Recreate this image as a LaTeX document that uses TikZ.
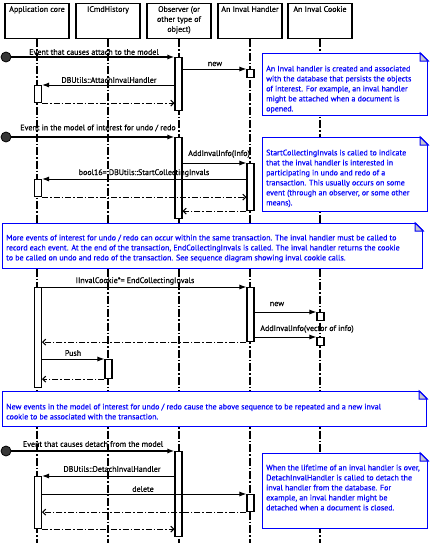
\documentclass[tikz,border=0pt]{standalone}
\usepackage{fontspec}
\setmainfont[FakeBold=0.35]{PT Sans}
\usetikzlibrary{arrows.meta}
\definecolor{noteblue}{RGB}{0,0,250}
\definecolor{flapgray}{RGB}{200,200,205}
\definecolor{dotfill}{RGB}{55,55,55}
\begin{document}
\begin{tikzpicture}[x=1pt,y=-1pt,
  font=\fontsize{8}{10}\selectfont,
  head/.style={draw, line width=1.2pt, minimum width=64pt, minimum height=35pt, anchor=north, inner sep=0pt},
  headtxt/.style={anchor=north, align=center, inner sep=0pt},
  lifeline/.style={line width=1.1pt, dash pattern=on 8pt off 2pt on 1.5pt off 2pt},
  bar/.style={draw, fill=white, line width=1.1pt, minimum width=7pt, inner sep=0pt, anchor=north},
  call/.style={line width=1pt, -{Latex[length=7pt,width=5pt]}},
  ret/.style={line width=1pt, dash pattern=on 6pt off 2pt on 1.5pt off 2pt, -{Straight Barb[length=3pt,width=6pt]}},
  found/.style={line width=1.3pt, -{Latex[length=7pt,width=5pt]}},
  startdot/.style={circle, draw, line width=0.8pt, fill=dotfill, minimum size=10pt, inner sep=0pt},
  lbl/.style={inner sep=0pt, anchor=center},
  notebox/.style={draw=noteblue, fill=white, line width=1.2pt, anchor=north west, inner sep=0pt},
  notetxt/.style={text=noteblue, align=left, anchor=north west, inner sep=0pt},
  flap/.style={draw=noteblue, fill=flapgray, line width=1pt, line join=miter}
]
\useasboundingbox (0,0) rectangle (445,558);

% ---------- headers ----------
\node[head] (hApp) at (37,3) {};
\node[head] (hCmd) at (108,3) {};
\node[head] (hObs) at (179,3) {};
\node[head] (hHnd) at (250,3) {};
\node[head] (hCk)  at (320,3) {};
\node[headtxt] (tApp) at ([yshift=-3pt]hApp.north) {Application core};
\node[headtxt] (tCmd) at ([yshift=-3pt]hCmd.north) {ICmdHistory};
\node[headtxt] (tObs) at ([yshift=-3pt]hObs.north) {Observer (or\\other type of\\object)};
\node[headtxt] (tHnd) at ([yshift=-3pt]hHnd.north) {An Inval Handler};
\node[headtxt] (tCk)  at ([yshift=-3pt]hCk.north) {An Inval Cookie};

% ---------- lifelines ----------
\coordinate (eApp) at (37,543);
\coordinate (eCmd) at (108,543);
\coordinate (eObs) at (179,543);
\coordinate (eHnd) at (250,543);
\coordinate (eCk)  at (320,543);
\draw[lifeline] (hApp.south) -- (eApp);
\draw[lifeline] (hCmd.south) -- (eCmd);
\draw[lifeline] (hObs.south) -- (eObs);
\draw[lifeline] (hHnd.south) -- (eHnd);
\draw[lifeline] (hCk.south) -- (eCk);

% ---------- activation bars ----------
\node[bar, minimum height=53pt] (obsA1) at (178.5,57) {};
\node[bar, minimum height=8pt]  (hndC)  at (250.5,69) {};
\node[bar, minimum height=17pt] (appA1) at (38,85) {};

\node[bar, minimum height=81pt] (obsA2) at (178.5,137) {};
\node[bar, minimum height=47pt] (hndA2) at (250.5,163) {};
\node[bar, minimum height=17pt] (appA2) at (38,179) {};

\node[bar, minimum height=100pt] (appA3) at (38,287) {};
\node[bar, minimum height=54pt]  (hndA3) at (250.5,287) {};
\node[bar, minimum height=8pt]   (ckC1)  at (320.5,312) {};
\node[bar, minimum height=8pt]   (ckC2)  at (320.5,337) {};
\node[bar, minimum height=19pt]  (cmdA)  at (108.5,359) {};

\node[bar, minimum height=85pt] (obsA3) at (178.5,451) {};
\node[bar, minimum height=52pt] (appA4) at (38,476) {};
\node[bar, minimum height=17pt] (hndA4) at (250.5,494) {};

% ---------- section 1 : attach ----------
\node[startdot] (s1) at (6,57) {};
\draw[found] (s1) -- (obsA1.north west);
\node[lbl] (l1) at (94,52) {Event that causes attach to the model};
\draw[call] (hndC.north west -| obsA1.east) -- (hndC.north west);
\node[lbl] (l2) at (215,64) {new};
\draw[call] (appA1.north east -| obsA1.west) -- (appA1.north east);
\node[lbl] (l3) at (109,80) {DBUtils::AttachInvalHandler};
\draw[ret] (appA1.south east) -- (appA1.south east -| obsA1.west);

% ---------- section 2 : start collecting ----------
\node[startdot] (s2) at (6,137) {};
\draw[found] (s2) -- (obsA2.north west);
\node[lbl] (l4) at (98,128) {Event in the model of interest for undo / redo};
\draw[call] (hndA2.north west -| obsA2.east) -- (hndA2.north west);
\node[lbl] (l5) at (219,154) {AddInvalInfo(Info)};
\draw[call] (appA2.north east -| hndA2.west) -- (appA2.north east);
\node[lbl] (l6) at (144,173) {bool16= DBUtils::StartCollectingInvals};
\draw[ret] (appA2.south east) -- (appA2.south east -| hndA2.west);
\draw[ret] (hndA2.south west) -- (hndA2.south west -| obsA2.east);

% ---------- section 3 : end collecting ----------
\draw[call] (appA3.north east) -- (hndA3.north west);
\node[lbl] (l7) at (135,281) {IInvalCookie*= EndCollectingInvals};
\draw[call] (ckC1.north west -| hndA3.east) -- (ckC1.north west);
\node[lbl] (l8) at (277,304) {new};
\draw[call] (ckC2.north west -| hndA3.east) -- (ckC2.north west);
\node[lbl] (l9) at (307,329) {AddInvalInfo(vector of info)};
\draw[ret] (hndA3.south west) -- (hndA3.south west -| appA3.east);
\draw[call] (cmdA.north west -| appA3.east) -- (cmdA.north west);
\node[lbl] (l10) at (73,353) {Push};
\draw[ret] (cmdA.south west) -- (cmdA.south west -| appA3.east);

% ---------- section 4 : detach ----------
\node[startdot] (s3) at (6,451) {};
\draw[found] (s3) -- (obsA3.north west);
\node[lbl] (l11) at (93,444) {Event that causes detach from the model};
\draw[call] (appA4.north east -| obsA3.west) -- (appA4.north east);
\node[lbl] (l12) at (112,469) {DBUtils::DetachInvalHandler};
\draw[call] (hndA4.north west -| appA4.east) -- (hndA4.north west);
\node[lbl] (l13) at (143,489) {delete};
\draw[ret] (hndA4.south west) -- (hndA4.south west -| appA4.east);
\draw[ret] (appA4.south east) -- (appA4.south east -| obsA3.west);

% ---------- notes ----------
\node[notebox, minimum width=165pt, minimum height=62pt] (n1) at (262,53) {};
\node[notebox, minimum width=165pt, minimum height=74pt] (n2) at (262,137) {};
\node[notebox, minimum width=420pt, minimum height=45pt] (n3) at (2,223) {};
\node[notebox, minimum width=424pt, minimum height=35pt] (n4) at (2,391) {};
\node[notebox, minimum width=165pt, minimum height=75pt] (n5) at (262,453) {};

\foreach \n in {n1,n2,n3,n4,n5}{
  \fill[white] ([xshift=-8pt]\n.north east) -- ([xshift=1pt,yshift=1pt]\n.north east) -- ([yshift=-8pt]\n.north east) -- cycle;
  \draw[noteblue, line width=1.2pt] ([xshift=-8pt]\n.north east) -- ([yshift=-8pt]\n.north east);
  \draw[flap] ([xshift=-8pt]\n.north east) -- ([xshift=-8pt,yshift=-8pt]\n.north east) -- ([yshift=-8pt]\n.north east) -- cycle;
}

\node[notetxt] (n1t) at ([xshift=4pt,yshift=-12.5pt]n1.north west)
  {An Inval handler is created and  associated\\with the database that persists the objects\\of interest. For example, an inval handler\\might be attached when a document is\\opened.};
\node[notetxt] (n2t) at ([xshift=4pt,yshift=-12.5pt]n2.north west)
  {StartCollectingInvals is called to indicate\\that the inval handler is interested in\\participating in undo and redo of a\\transaction. This usually occurs on some\\event (through an observer, or some other\\means).};
\node[notetxt] (n3t) at ([xshift=4pt,yshift=-11.5pt]n3.north west)
  {More events of interest for undo / redo can occur within the same transaction. The inval handler must be called to\\record each event. At the end of the transaction, EndCollectingInvals is called. The inval handler returns the cookie\\to be called on undo and redo of the transaction. See sequence diagram showing inval cookie calls.};
\node[notetxt] (n4t) at ([xshift=4pt,yshift=-12.5pt]n4.north west)
  {New events in the model of interest for undo / redo cause the above sequence to be repeated and a new inval\\cookie to be associated with the transaction.};
\node[notetxt] (n5t) at ([xshift=4pt,yshift=-11.5pt]n5.north west)
  {When the lifetime of an inval handler is over,\\DetachInvalHandler is called to detach the\\inval handler from the database. For\\example, an inval handler might be\\detached when a document is closed.};
\end{tikzpicture}
\end{document}
